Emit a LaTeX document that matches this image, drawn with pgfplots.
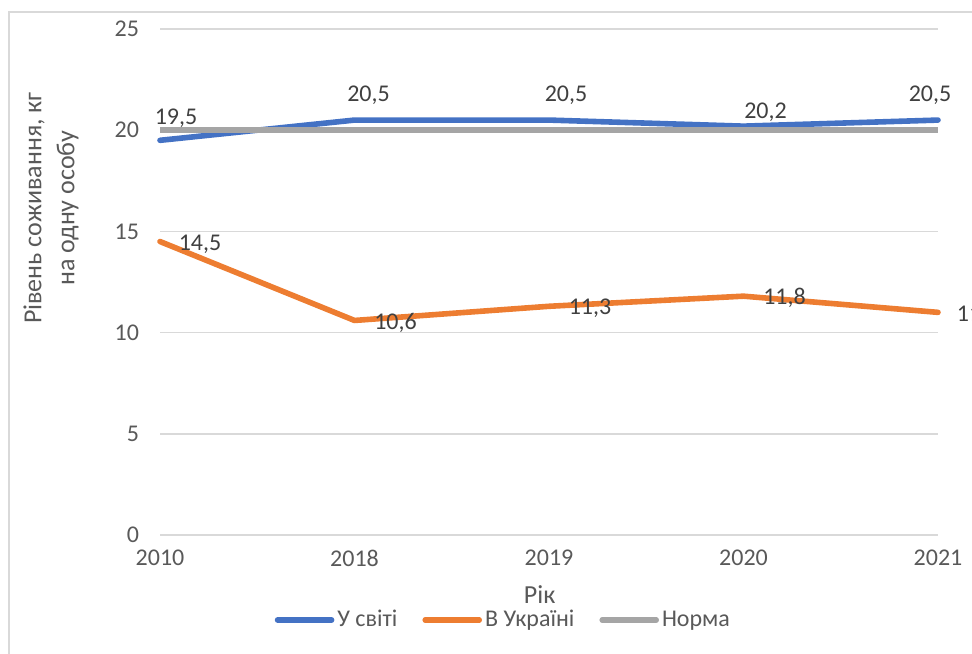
\documentclass[border=0pt]{standalone}
\usepackage{pgfplots}
\usepackage{pgfplotstable}
\pgfplotsset{compat=1.18}
\usepackage{fontspec}
\setmainfont{Carlito}
\definecolor{cblue}{HTML}{4472C4}
\definecolor{corange}{HTML}{ED7D31}
\definecolor{cgray}{HTML}{A5A5A5}
\definecolor{cgrid}{HTML}{D9D9D9}
\definecolor{ctick}{HTML}{595959}
\definecolor{clab}{HTML}{404040}

\pgfplotstableread{
x y lab dx dy
0 19.5 19,5 8 11
1 20.5 20,5 7 12.5
2 20.5 20,5 8.5 12.5
3 20.2 20,2 11 7
4 20.5 20,5 -4 12.5
}\world
\pgfplotstableread{
x y lab dx dy
0 14.5 14,5 20 -1.5
1 10.6 10,6 20.5 -1
2 11.3 11,3 20.5 -1
3 11.8 11,8 20.5 -1
4 11 11 15.5 -0.5
}\ukraine
\pgfplotstableread{
x y
0 20
1 20
2 20
3 20
4 20
}\norm

\pgfplotsset{
  vlabels/.style={
    nodes near coords,
    point meta=explicit symbolic,
    visualization depends on={\thisrow{dx} \as \dx},
    visualization depends on={\thisrow{dy} \as \dy},
    every node near coord/.append style={anchor=center, xshift=\dx pt, yshift=\dy pt, font=\fontsize{12}{14}\selectfont, text=clab},
  }
}

\begin{document}
\begin{tikzpicture}
\clip (0,0) rectangle (486pt,326.5pt);
\draw[cgrid, line width=0.8pt] (4.5pt,-5pt) -- (4.5pt,320.5pt) -- (500pt,320.5pt);
\begin{axis}[
  at={(80pt,59pt)}, anchor=south west,
  scale only axis, width=389pt, height=253pt,
  xmin=0, xmax=4, ymin=0, ymax=25,
  xtick={0,1,2,3,4}, xticklabels={2010,2018,2019,2020,2021},
  ytick={0,5,10,15,20,25},
  ymajorgrids, grid style={cgrid, line width=0.8pt},
  axis line style={draw=none}, tick style={draw=none},
  clip=false,
  /pgf/number format/assume math mode=true,
  ticklabel style={font=\fontsize{12}{14}\selectfont, text=ctick},
  yticklabel style={xshift=-7pt},
  xticklabel style={yshift=-4pt},
  xlabel={Рік},
  xlabel style={font=\fontsize{13}{15}\selectfont, text=ctick, at={(axis description cs:0.488,-0.117)}, anchor=center},
  ylabel={Рівень соживання, кг\\на одну особу},
  ylabel style={font=\fontsize{13}{16.5}\selectfont, text=ctick, align=center, at={(axis description cs:-0.140,0.646)}, anchor=center},
  legend columns=3,
  legend cell align=left,
  legend style={draw=none, fill=none, font=\fontsize{12}{14}\selectfont, text=ctick,
    at={(axis description cs:0.442,-0.168)}, anchor=center,
    nodes={inner xsep=1.5pt},
    /tikz/every even column/.style={column sep=11pt},
    /tikz/every odd column/.style={column sep=0pt}},
  legend image code/.code={\draw[#1, line cap=round] (0pt,0pt) -- (27pt,0pt);},
]
\addplot[cblue, line width=2.8pt, line join=round, line cap=round, vlabels] table[x=x, y=y, meta=lab] {\world};
\addlegendentry{У світі}
\addplot[corange, line width=2.8pt, line join=round, line cap=round, vlabels] table[x=x, y=y, meta=lab] {\ukraine};
\addlegendentry{В Україні}
\addplot[cgray, line width=2.8pt, line join=round] table[x=x, y=y] {\norm};
\addlegendentry{Норма}
\end{axis}
\end{tikzpicture}
\end{document}
